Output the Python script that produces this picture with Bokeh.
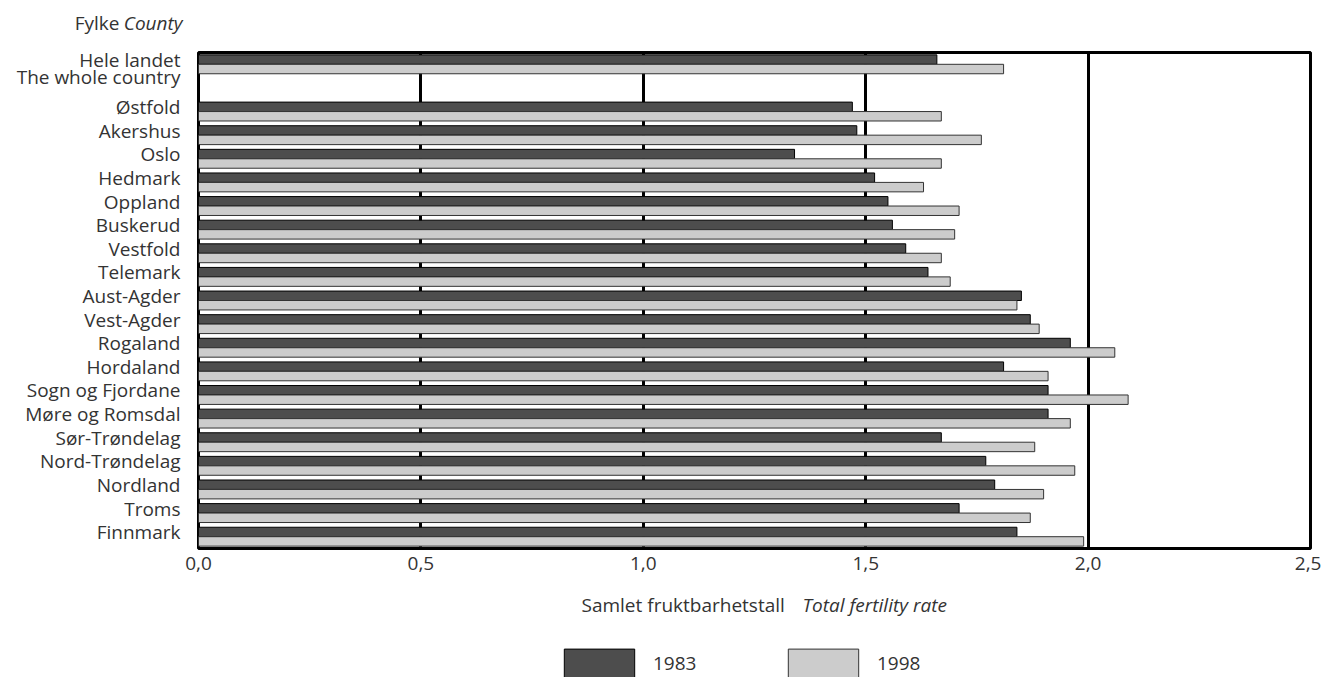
from bokeh.plotting import figure
from bokeh.layouts import column
from bokeh.models import (Range1d, FixedTicker, CustomJSTickFormatter, Label,
                          Legend, LegendItem, ColumnDataSource)
from bokeh.embed import file_html
from bokeh.resources import INLINE

# ---- data ----
total_label = ["Hele landet", "The whole country"]
total_1983 = 1.66
total_1998 = 1.81

counties = ["Østfold", "Akershus", "Oslo", "Hedmark", "Oppland", "Buskerud",
            "Vestfold", "Telemark", "Aust-Agder", "Vest-Agder", "Rogaland",
            "Hordaland", "Sogn og Fjordane", "Møre og Romsdal", "Sør-Trøndelag",
            "Nord-Trøndelag", "Nordland", "Troms", "Finnmark"]
tfr_1983 = [1.47, 1.48, 1.34, 1.52, 1.55, 1.56, 1.59, 1.64, 1.85, 1.87, 1.96,
            1.81, 1.91, 1.91, 1.67, 1.77, 1.79, 1.71, 1.84]
tfr_1998 = [1.67, 1.76, 1.67, 1.63, 1.71, 1.70, 1.67, 1.69, 1.84, 1.89, 2.06,
            1.91, 2.09, 1.96, 1.88, 1.97, 1.90, 1.87, 1.99]
years = ["1983", "1998"]
x_ticks = [0.0, 0.5, 1.0, 1.5, 2.0, 2.5]
header = ["Fylke", "County"]
x_title = ["Samlet fruktbarhetstall", "Total fertility rate"]

FONT = "Open Sans"
TXT = "#333333"
FS = "19px"
DARK = "#4d4d4d"
LIGHT = "#cccccc"

W = 1321
H_HEAD, H_MAIN, H_FOOT = 46, 534, 97

# ---- text strips (pixel coordinates, frame = whole canvas) ----
def strip(h):
    f = figure(width=W, height=h, output_backend="svg", toolbar_location=None,
               x_range=Range1d(0, W), y_range=Range1d(h, 0),
               x_axis_location=None, y_axis_location=None,
               min_border=0, min_border_left=0, min_border_right=0,
               min_border_top=0, min_border_bottom=0)
    f.frame_align = False
    f.outline_line_color = None
    f.xgrid.visible = False
    f.ygrid.visible = False
    return f

def lab(f, x, y, text, style="normal", align="left"):
    f.add_layout(Label(x=x, y=y, text=text, text_font=FONT, text_font_size=FS,
                       text_color=TXT, text_font_style=style, text_align=align,
                       text_baseline="middle"))

head = strip(H_HEAD)
lab(head, 119, 22, header[0], align="right")
lab(head, 182, 22, header[1], style="italic", align="right")

# ---- main chart ----
rows = [0] + [i + 2 for i in range(len(counties))]
v83 = [total_1983] + tfr_1983
v98 = [total_1998] + tfr_1998
n_rows = len(counties) + 2

src = ColumnDataSource(dict(
    y83=[r - 0.2 for r in rows], y98=[r + 0.2 for r in rows], v83=v83, v98=v98))

p = figure(width=W, height=H_MAIN, output_backend="svg", toolbar_location=None,
           x_range=Range1d(0, 2.5), y_range=Range1d(n_rows - 0.5, -0.5),
           min_border_left=198, min_border_right=W - 1310, min_border_top=6,
           min_border_bottom=32)
p.frame_align = False
p.background_fill_color = "white"
p.border_fill_color = "white"
p.outline_line_color = "black"
p.outline_line_width = 3

r83 = p.hbar(y="y83", right="v83", left=0, height=0.4, source=src,
             fill_color=DARK, line_color="black", line_width=1)
r98 = p.hbar(y="y98", right="v98", left=0, height=0.4, source=src,
             fill_color=LIGHT, line_color="#333333", line_width=1)

p.ygrid.grid_line_color = None
p.xgrid.ticker = FixedTicker(ticks=[0.5, 1.0, 1.5, 2.0])
p.xgrid.grid_line_color = "black"
p.xgrid.grid_line_width = 3
p.xgrid.level = "underlay"

xa = p.xaxis[0]
xa.ticker = FixedTicker(ticks=x_ticks)
xa.formatter = CustomJSTickFormatter(code="return tick.toFixed(1).replace('.', ',');")
xa.axis_line_color = None
xa.major_tick_line_color = None
xa.minor_tick_line_color = None
xa.major_tick_out = 0
xa.major_tick_in = 0
xa.major_label_standoff = 8
xa.major_label_text_font = FONT
xa.major_label_text_font_size = FS
xa.major_label_text_color = TXT

ya = p.yaxis[0]
tick_pos = [-0.29, 0.52] + [r - 0.19 for r in rows[1:]]
tick_txt = total_label + counties
ya.ticker = FixedTicker(ticks=tick_pos)
ya.major_label_overrides = {t: s for t, s in zip(tick_pos, tick_txt)}
ya.axis_line_color = None
ya.major_tick_line_color = None
ya.minor_tick_line_color = None
ya.major_tick_out = 0
ya.major_tick_in = 0
ya.major_label_standoff = 18
ya.major_label_text_font = FONT
ya.major_label_text_font_size = FS
ya.major_label_text_color = TXT

# ---- footer: axis title + legend ----
foot = strip(H_FOOT)
lab(foot, 581, 24, x_title[0])
lab(foot, 802, 24, x_title[1], style="italic")

# legend swatch renderers (hidden; only the legend shows them)
lsrc = ColumnDataSource(dict(y=[40.0], v83=[total_1983], v98=[total_1998]))
d83 = foot.hbar(y="y", right="v83", left=0, height=1, source=lsrc,
                fill_color=DARK, line_color="black", line_width=1)
d98 = foot.hbar(y="y", right="v98", left=0, height=1, source=lsrc,
                fill_color=LIGHT, line_color="#333333", line_width=1)
d83.visible = False
d98.visible = False
legend = Legend(items=[LegendItem(label=years[0], renderers=[d83]),
                       LegendItem(label=years[1], renderers=[d98])],
                orientation="horizontal", location=(555, -4),
                glyph_width=88, glyph_height=36, label_standoff=10,
                label_width=126, spacing=0, padding=0, margin=0,
                border_line_color=None, background_fill_alpha=0,
                label_text_font=FONT, label_text_font_size=FS,
                label_text_color=TXT)
foot.add_layout(legend, "center")

layout = column(head, p, foot, spacing=0)
open("out.html", "w").write(file_html(layout, INLINE))
